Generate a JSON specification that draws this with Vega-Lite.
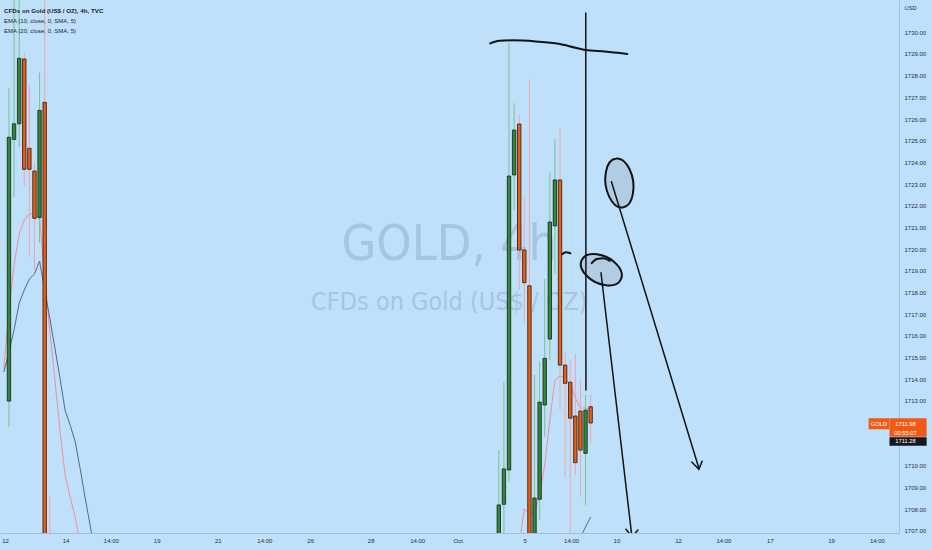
{
  "$schema": "https://vega.github.io/schema/vega-lite/v6.json",
  "width": 899,
  "height": 533,
  "autosize": {"type": "none"},
  "padding": {"left": 0, "top": 0, "right": 33, "bottom": 17},
  "background": "#bee0fa",
  "config": {
    "view": {"stroke": null},
    "font": "Liberation Sans",
    "axis": {"grid": false, "ticks": false, "domainColor": "#9dc0df", "domainWidth": 1, "labelColor": "#2a2e39", "labelFont": "Liberation Sans", "labelFontSize": 6, "labelOverlap": false, "labelFlush": false}
  },
  "title": {
    "text": "CFDs on Gold (US$ / OZ), 4h, TVC",
    "subtitle": ["EMA (10, close, 0, SMA, 5)", "EMA (20, close, 0, SMA, 5)"],
    "anchor": "start", "frame": "group", "orient": "top", "offset": -34, "dx": 4,
    "font": "Liberation Sans", "fontSize": 6.2, "fontWeight": "bold", "color": "#1e222d",
    "subtitleFont": "Liberation Sans", "subtitleFontSize": 6, "subtitleColor": "#1e222d",
    "subtitlePadding": 4, "subtitleLineHeight": 10
  },
  "resolve": {"scale": {"color": "independent", "fill": "independent", "shape": "independent"}},
  "datasets": {
    "wm": [
      {"t": "GOLD, 4h", "k": 86.3, "p": 1719.5},
      {"t": "CFDs on Gold (US$ / OZ)", "k": 86.3, "p": 1717.19}
    ],
    "candles": [
      {"k": 0, "open": 1712.99, "high": 1727.43, "low": 1711.79, "close": 1725.16, "dir": "up"},
      {"k": 1, "open": 1725.06, "high": 1732.5, "low": 1722.40, "close": 1725.78, "dir": "up"},
      {"k": 2, "open": 1725.78, "high": 1732.5, "low": 1724.71, "close": 1728.80, "dir": "up"},
      {"k": 3, "open": 1728.77, "high": 1729.03, "low": 1722.92, "close": 1723.68, "dir": "down"},
      {"k": 4, "open": 1724.65, "high": 1727.57, "low": 1719.68, "close": 1723.68, "dir": "down"},
      {"k": 5, "open": 1723.60, "high": 1723.97, "low": 1719.04, "close": 1721.42, "dir": "down"},
      {"k": 6, "open": 1721.45, "high": 1728.14, "low": 1720.30, "close": 1726.40, "dir": "up"},
      {"k": 7, "open": 1726.77, "high": 1733.0, "low": 1690.0, "close": 1692.0, "dir": "down"},
      {"k": 8, "open": 1700.0, "high": 1708.57, "low": 1690.0, "close": 1695.0, "dir": "down"},
      {"k": 96, "open": 1700.0, "high": 1710.73, "low": 1698.0, "close": 1708.20, "dir": "up"},
      {"k": 97, "open": 1708.23, "high": 1713.88, "low": 1706.5, "close": 1709.86, "dir": "up"},
      {"k": 98, "open": 1709.81, "high": 1729.51, "low": 1709.27, "close": 1723.37, "dir": "up"},
      {"k": 99, "open": 1723.42, "high": 1726.73, "low": 1721.80, "close": 1725.49, "dir": "up"},
      {"k": 100, "open": 1725.77, "high": 1726.19, "low": 1718.11, "close": 1719.96, "dir": "down"},
      {"k": 101, "open": 1719.96, "high": 1722.42, "low": 1716.58, "close": 1718.45, "dir": "down"},
      {"k": 102, "open": 1718.31, "high": 1727.80, "low": 1695.0, "close": 1700.0, "dir": "down"},
      {"k": 103, "open": 1700.0, "high": 1714.19, "low": 1695.0, "close": 1708.52, "dir": "up"},
      {"k": 104, "open": 1708.46, "high": 1714.81, "low": 1707.5, "close": 1712.94, "dir": "up"},
      {"k": 105, "open": 1712.81, "high": 1718.62, "low": 1711.35, "close": 1714.96, "dir": "up"},
      {"k": 106, "open": 1715.85, "high": 1723.52, "low": 1714.88, "close": 1721.25, "dir": "up"},
      {"k": 107, "open": 1721.07, "high": 1725.08, "low": 1718.88, "close": 1723.19, "dir": "up"},
      {"k": 108, "open": 1723.19, "high": 1725.57, "low": 1712.57, "close": 1714.65, "dir": "down"},
      {"k": 109, "open": 1714.65, "high": 1715.21, "low": 1709.44, "close": 1713.81, "dir": "down"},
      {"k": 110, "open": 1713.86, "high": 1714.88, "low": 1706.0, "close": 1712.20, "dir": "down"},
      {"k": 111, "open": 1712.30, "high": 1715.16, "low": 1709.58, "close": 1710.15, "dir": "down"},
      {"k": 112, "open": 1712.53, "high": 1713.96, "low": 1708.58, "close": 1710.73, "dir": "down"},
      {"k": 113, "open": 1710.58, "high": 1713.27, "low": 1708.20, "close": 1712.57, "dir": "up"},
      {"k": 114, "open": 1712.73, "high": 1713.27, "low": 1711.06, "close": 1711.98, "dir": "down"}
    ],
    "ema": [
      {"s": "EMA10", "k": -1, "v": 1714.5},
      {"s": "EMA10", "k": 0, "v": 1717.19},
      {"s": "EMA10", "k": 1, "v": 1719.27},
      {"s": "EMA10", "k": 2, "v": 1720.70},
      {"s": "EMA10", "k": 3, "v": 1721.34},
      {"s": "EMA10", "k": 4, "v": 1721.62},
      {"s": "EMA10", "k": 5, "v": 1721.62},
      {"s": "EMA10", "k": 6, "v": 1721.43},
      {"s": "EMA10", "k": 7, "v": 1718.71},
      {"s": "EMA10", "k": 8, "v": 1716.27},
      {"s": "EMA10", "k": 9, "v": 1713.96},
      {"s": "EMA10", "k": 10, "v": 1711.66},
      {"s": "EMA10", "k": 11, "v": 1709.58},
      {"s": "EMA10", "k": 12, "v": 1708.57},
      {"s": "EMA10", "k": 13, "v": 1707.60},
      {"s": "EMA10", "k": 14, "v": 1706.35},
      {"s": "EMA10", "k": 15, "v": 1705.2},
      {"s": "EMA10", "k": 20, "v": 1700.0},
      {"s": "EMA10", "k": 60, "v": 1690.0},
      {"s": "EMA10", "k": 95, "v": 1698.0},
      {"s": "EMA10", "k": 99, "v": 1704.5},
      {"s": "EMA10", "k": 100, "v": 1706.35},
      {"s": "EMA10", "k": 101, "v": 1708.01},
      {"s": "EMA10", "k": 102, "v": 1707.83},
      {"s": "EMA10", "k": 103, "v": 1707.87},
      {"s": "EMA10", "k": 104, "v": 1708.66},
      {"s": "EMA10", "k": 105, "v": 1710.04},
      {"s": "EMA10", "k": 106, "v": 1712.12},
      {"s": "EMA10", "k": 107, "v": 1713.96},
      {"s": "EMA10", "k": 108, "v": 1714.15},
      {"s": "EMA10", "k": 109, "v": 1714.05},
      {"s": "EMA10", "k": 110, "v": 1713.73},
      {"s": "EMA10", "k": 111, "v": 1713.13},
      {"s": "EMA10", "k": 112, "v": 1712.67},
      {"s": "EMA10", "k": 113, "v": 1712.67},
      {"s": "EMA10", "k": 114, "v": 1712.58},
      {"s": "EMA20", "k": -1, "v": 1714.33},
      {"s": "EMA20", "k": 0, "v": 1715.25},
      {"s": "EMA20", "k": 1, "v": 1716.27},
      {"s": "EMA20", "k": 2, "v": 1717.51},
      {"s": "EMA20", "k": 3, "v": 1718.11},
      {"s": "EMA20", "k": 4, "v": 1718.62},
      {"s": "EMA20", "k": 5, "v": 1718.85},
      {"s": "EMA20", "k": 6, "v": 1719.45},
      {"s": "EMA20", "k": 7, "v": 1718.11},
      {"s": "EMA20", "k": 8, "v": 1716.82},
      {"s": "EMA20", "k": 9, "v": 1715.44},
      {"s": "EMA20", "k": 10, "v": 1714.05},
      {"s": "EMA20", "k": 11, "v": 1712.57},
      {"s": "EMA20", "k": 12, "v": 1711.88},
      {"s": "EMA20", "k": 13, "v": 1711.10},
      {"s": "EMA20", "k": 14, "v": 1709.81},
      {"s": "EMA20", "k": 15, "v": 1708.43},
      {"s": "EMA20", "k": 16, "v": 1707.14},
      {"s": "EMA20", "k": 17, "v": 1705.85},
      {"s": "EMA20", "k": 25, "v": 1698.0},
      {"s": "EMA20", "k": 60, "v": 1690.0},
      {"s": "EMA20", "k": 100, "v": 1695.0},
      {"s": "EMA20", "k": 110, "v": 1706.12},
      {"s": "EMA20", "k": 112, "v": 1706.72},
      {"s": "EMA20", "k": 113, "v": 1707.18},
      {"s": "EMA20", "k": 114, "v": 1707.64}
    ],
    "brush": [
      {"id": "A", "o": 1, "k": 94.32, "p": 1729.49},
      {"id": "A", "o": 2, "k": 96.12, "p": 1729.61},
      {"id": "A", "o": 3, "k": 98.70, "p": 1729.63},
      {"id": "A", "o": 4, "k": 103.24, "p": 1729.58},
      {"id": "A", "o": 5, "k": 107.75, "p": 1729.47},
      {"id": "A", "o": 6, "k": 110.99, "p": 1729.29},
      {"id": "A", "o": 7, "k": 113.04, "p": 1729.18},
      {"id": "A", "o": 8, "k": 116.80, "p": 1729.11},
      {"id": "A", "o": 9, "k": 121.18, "p": 1729.00},
      {"id": "C", "o": 1, "k": 108.39, "p": 1719.76},
      {"id": "C", "o": 2, "k": 109.17, "p": 1719.85},
      {"id": "C", "o": 3, "k": 110.02, "p": 1719.81},
      {"id": "H", "o": 1, "k": 114.21, "p": 1719.35},
      {"id": "H", "o": 2, "k": 115.19, "p": 1719.54},
      {"id": "H", "o": 3, "k": 116.47, "p": 1719.58},
      {"id": "H", "o": 4, "k": 117.77, "p": 1719.46}
    ],
    "strokes": [
      {"id": "B", "o": 1, "k": 113.04, "p": 1730.89},
      {"id": "B", "o": 2, "k": 113.08, "p": 1713.50},
      {"id": "D", "o": 1, "k": 118.08, "p": 1723.11},
      {"id": "D", "o": 2, "k": 135.21, "p": 1709.89},
      {"id": "E", "o": 1, "k": 133.82, "p": 1710.18},
      {"id": "E", "o": 2, "k": 135.21, "p": 1709.84},
      {"id": "E", "o": 3, "k": 135.85, "p": 1710.22},
      {"id": "F", "o": 1, "k": 116.03, "p": 1718.91},
      {"id": "F", "o": 2, "k": 122.09, "p": 1706.72},
      {"id": "G", "o": 1, "k": 120.93, "p": 1707.08},
      {"id": "G", "o": 2, "k": 122.09, "p": 1706.72},
      {"id": "G", "o": 3, "k": 123.26, "p": 1707.04}
    ],
    "ellipses": [
      {"id": "e1", "k": 119.63, "p": 1723.05},
      {"id": "e2", "k": 116.09, "p": 1719.05}
    ],
    "boxes": [
      {"id": "price", "k1": 172.57, "k2": 179.84, "p1": 1712.20, "p2": 1711.35},
      {"id": "last", "k1": 172.57, "k2": 179.84, "p1": 1711.32, "p2": 1710.93},
      {"id": "sym", "k1": 168.47, "k2": 172.54, "p1": 1712.20, "p2": 1711.69}
    ],
    "tags": [
      {"t": "1711.98", "k": 175.7, "p": 1711.93},
      {"t": "00:55:07", "k": 175.7, "p": 1711.54},
      {"t": "1711.28", "k": 175.7, "p": 1711.13},
      {"t": "GOLD", "k": 170.5, "p": 1711.95}
    ]
  },
  "layer": [
    {
      "data": {"name": "wm"},
      "transform": [{"filter": "datum.t == 'GOLD, 4h'"}],
      "mark": {"type": "text", "font": "Liberation Sans Narrow, DejaVu Sans Condensed, sans-serif", "fontSize": 50, "fill": "#a7c5df", "align": "center", "baseline": "alphabetic"},
      "encoding": {
        "x": {"field": "k", "type": "quantitative", "scale": {"domain": [-0.775, 173.45], "nice": false, "zero": false},
          "axis": {"orient": "bottom", "title": null, "tickCount": 60, "labelFlush": false, "labelOverlap": false, "values": [-0.77, 11.09, 19.96, 28.95, 40.93, 50.04, 59.03, 70.89, 80.0, 87.95, 101.08, 110.17, 119.05, 131.14, 140.02, 149.13, 161.1, 170.1],
            "labelExpr": "['12','14','14:00','19','21','14:00','26','28','14:00','Oct','5','14:00','10','12','14:00','17','19','14:00'][indexof([-0.77, 11.09, 19.96, 28.95, 40.93, 50.04, 59.03, 70.89, 80.0, 87.95, 101.08, 110.17, 119.05, 131.14, 140.02, 149.13, 161.1, 170.1], datum.value)]",
            "labelPadding": 4, "labelBaseline": "top", "labelAlign": "center"}},
        "y": {"field": "p", "type": "quantitative", "scale": {"domain": [1706.905, 1731.49], "nice": false, "zero": false},
          "axis": {"orient": "right", "tickCount": 60, "labelFlush": false, "labelOverlap": false, "values": [1707, 1708, 1709, 1710, 1713, 1714, 1715, 1716, 1717, 1718, 1719, 1720, 1721, 1722, 1723, 1724, 1725, 1726, 1727, 1728, 1729, 1730],
            "format": ".2f", "labelPadding": 5, "labelAlign": "left", "labelBaseline": "middle",
            "title": "USD", "titleAngle": 0, "titleX": 5, "titleY": 7, "titleAlign": "left", "titleBaseline": "middle", "titleFontSize": 5.8, "titleFontWeight": "normal", "titleColor": "#2a2e39", "titleFont": "Liberation Sans"}},
        "text": {"field": "t"}
      }
    },
    {
      "data": {"name": "wm"},
      "transform": [{"filter": "datum.t != 'GOLD, 4h'"}],
      "mark": {"type": "text", "font": "Liberation Sans Narrow, DejaVu Sans Condensed, sans-serif", "fontSize": 25, "fill": "#a7c5df", "align": "center", "baseline": "alphabetic"},
      "encoding": {
        "x": {"field": "k", "type": "quantitative", "scale": {"domain": [-0.775, 173.45], "nice": false, "zero": false}},
        "y": {"field": "p", "type": "quantitative", "scale": {"domain": [1706.905, 1731.49], "nice": false, "zero": false}},
        "text": {"field": "t"}
      }
    },
    {
      "mark": {"type": "rule", "stroke": "#f2a3a3", "strokeWidth": 1},
      "encoding": {"y": {"datum": 1711.98, "type": "quantitative", "scale": {"domain": [1706.905, 1731.49], "nice": false, "zero": false}}}
    },
    {
      "mark": {"type": "rule", "stroke": "#131722", "strokeWidth": 1.4, "strokeDash": [2, 2]},
      "encoding": {"y": {"datum": 1711.28, "type": "quantitative", "scale": {"domain": [1706.905, 1731.49], "nice": false, "zero": false}}}
    },
    {
      "data": {"name": "ema"},
      "mark": {"type": "line", "strokeWidth": 1, "clip": true},
      "encoding": {
        "x": {"field": "k", "type": "quantitative", "scale": {"domain": [-0.775, 173.45], "nice": false, "zero": false}},
        "y": {"field": "v", "type": "quantitative", "scale": {"domain": [1706.905, 1731.49], "nice": false, "zero": false}},
        "color": {"field": "s", "type": "nominal", "scale": {"domain": ["EMA10", "EMA20"], "range": ["#f28d96", "#5a6590"]}, "legend": null}
      }
    },
    {
      "data": {"name": "candles"},
      "mark": {"type": "rule", "strokeWidth": 1, "clip": true},
      "encoding": {
        "x": {"field": "k", "type": "quantitative", "scale": {"domain": [-0.775, 173.45], "nice": false, "zero": false}},
        "y": {"field": "low", "type": "quantitative", "scale": {"domain": [1706.905, 1731.49], "nice": false, "zero": false}},
        "y2": {"field": "high"},
        "color": {"field": "dir", "type": "nominal", "scale": {"domain": ["up", "down"], "range": ["#7cc28b", "#f4a3a8"]}, "legend": null}
      }
    },
    {
      "data": {"name": "candles"},
      "mark": {"type": "bar", "width": 3.4, "stroke": "#1c1c1c", "strokeWidth": 0.8, "clip": true},
      "encoding": {
        "x": {"field": "k", "type": "quantitative", "scale": {"domain": [-0.775, 173.45], "nice": false, "zero": false}},
        "y": {"field": "open", "type": "quantitative", "scale": {"domain": [1706.905, 1731.49], "nice": false, "zero": false}},
        "y2": {"field": "close"},
        "fill": {"field": "dir", "type": "nominal", "scale": {"domain": ["up", "down"], "range": ["#2e8a36", "#f25a0c"]}, "legend": null}
      }
    },
    {
      "data": {"name": "ellipses"},
      "mark": {"type": "point", "filled": false, "size": 4, "fill": "#b2cce4", "fillOpacity": 1, "stroke": "#131313", "strokeWidth": 2, "opacity": 1},
      "encoding": {
        "x": {"field": "k", "type": "quantitative", "scale": {"domain": [-0.775, 173.45], "nice": false, "zero": false}},
        "y": {"field": "p", "type": "quantitative", "scale": {"domain": [1706.905, 1731.49], "nice": false, "zero": false}},
        "shape": {"field": "id", "type": "nominal", "scale": {"domain": ["e1", "e2"], "range": ["M-3.43,-24.46 A24.7,13.7 82 1,1 3.43,24.46 A24.7,13.7 82 1,1 -3.43,-24.46 Z", "M-19.42,-9.9 A21.8,13.5 27 1,1 19.42,9.9 A21.8,13.5 27 1,1 -19.42,-9.9 Z"]}, "legend": null}
      }
    },
    {
      "data": {"name": "brush"},
      "mark": {"type": "line", "stroke": "#131313", "strokeWidth": 2, "interpolate": "monotone", "clip": true, "strokeCap": "round"},
      "encoding": {
        "x": {"field": "k", "type": "quantitative", "scale": {"domain": [-0.775, 173.45], "nice": false, "zero": false}},
        "y": {"field": "p", "type": "quantitative", "scale": {"domain": [1706.905, 1731.49], "nice": false, "zero": false}},
        "detail": {"field": "id"},
        "order": {"field": "o"}
      }
    },
    {
      "data": {"name": "strokes"},
      "mark": {"type": "line", "stroke": "#131313", "strokeWidth": 1.5, "clip": true, "strokeCap": "round"},
      "encoding": {
        "x": {"field": "k", "type": "quantitative", "scale": {"domain": [-0.775, 173.45], "nice": false, "zero": false}},
        "y": {"field": "p", "type": "quantitative", "scale": {"domain": [1706.905, 1731.49], "nice": false, "zero": false}},
        "detail": {"field": "id"},
        "order": {"field": "o"}
      }
    },
    {
      "data": {"name": "boxes"},
      "mark": {"type": "rect"},
      "encoding": {
        "x": {"field": "k1", "type": "quantitative", "scale": {"domain": [-0.775, 173.45], "nice": false, "zero": false}},
        "x2": {"field": "k2"},
        "y": {"field": "p1", "type": "quantitative", "scale": {"domain": [1706.905, 1731.49], "nice": false, "zero": false}},
        "y2": {"field": "p2"},
        "fill": {"field": "id", "type": "nominal", "scale": {"domain": ["price", "last", "sym"], "range": ["#f05a14", "#131722", "#f05a14"]}, "legend": null}
      }
    },
    {
      "data": {"name": "tags"},
      "mark": {"type": "text", "fill": "#ffffff", "fontSize": 5.8, "align": "center", "baseline": "middle", "font": "Liberation Sans"},
      "encoding": {
        "x": {"field": "k", "type": "quantitative", "scale": {"domain": [-0.775, 173.45], "nice": false, "zero": false}},
        "y": {"field": "p", "type": "quantitative", "scale": {"domain": [1706.905, 1731.49], "nice": false, "zero": false}},
        "text": {"field": "t"}
      }
    }
  ]
}
